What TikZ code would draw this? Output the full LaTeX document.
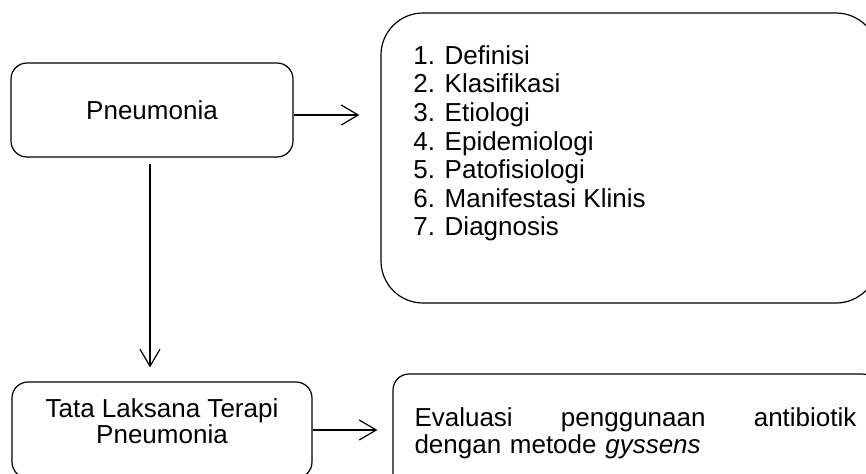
\documentclass[tikz,border=0pt]{standalone}
\usepackage{fontspec}
\setmainfont{Liberation Sans}
\usetikzlibrary{arrows.meta}

\begin{document}
\begin{tikzpicture}[
    x=0.5pt, y=-0.5pt,
    box/.style={rectangle, draw, line width=0.6pt, rounded corners=8pt, inner sep=0pt,
        align=center, font=\fontsize{13}{13.3}\selectfont},
    link/.style={line width=0.6pt, -{Straight Barb[length=8.5pt, width=10pt]}}
]
    \path[use as bounding box, clip] (0,0) rectangle (866,473);

    % Boxes
    \node[box, minimum width=141pt, minimum height=47pt] (pneu) at (152,110) {Pneumonia};

    \node[box, rounded corners=21pt, minimum width=248.5pt, minimum height=145pt] (topics) at (629.5,158) {};
    \node[anchor=north west, inner sep=0pt, align=left,
        font=\fontsize{13}{14.3}\selectfont] (topiclist) at (413,45) {
        1. Definisi\\
        2. Klasifikasi\\
        3. Etiologi\\
        4. Epidemiologi\\
        5. Patofisiologi\\
        6. Manifestasi Klinis\\
        7. Diagnosis
    };

    \node[box, text depth=9pt, minimum width=150pt, minimum height=48pt] (terapi) at (162,430) {
        Tata Laksana Terapi\\
        Pneumonia
    };

    \node[box, align=left, text width=221pt, minimum width=242.5pt, minimum height=59pt] (eval) at (635.5,433) {
        Evaluasi\hfill penggunaan\hfill antibiotik\\
        dengan metode \textit{gyssens}
    };

    % Arrows
    \draw[link, shorten >=10.5pt] ([yshift=-2.5pt]pneu.east) -- ([yshift=-2.5pt]pneu.east -| topics.west);
    \draw[link, shorten <=3pt, shorten >=7pt] ([xshift=-1pt]pneu.south) -- ([xshift=-1pt]pneu.south |- terapi.north);
    \draw[link, shorten >=7.5pt] (terapi.east) -- (terapi.east -| eval.west);

\end{tikzpicture}
\end{document}
